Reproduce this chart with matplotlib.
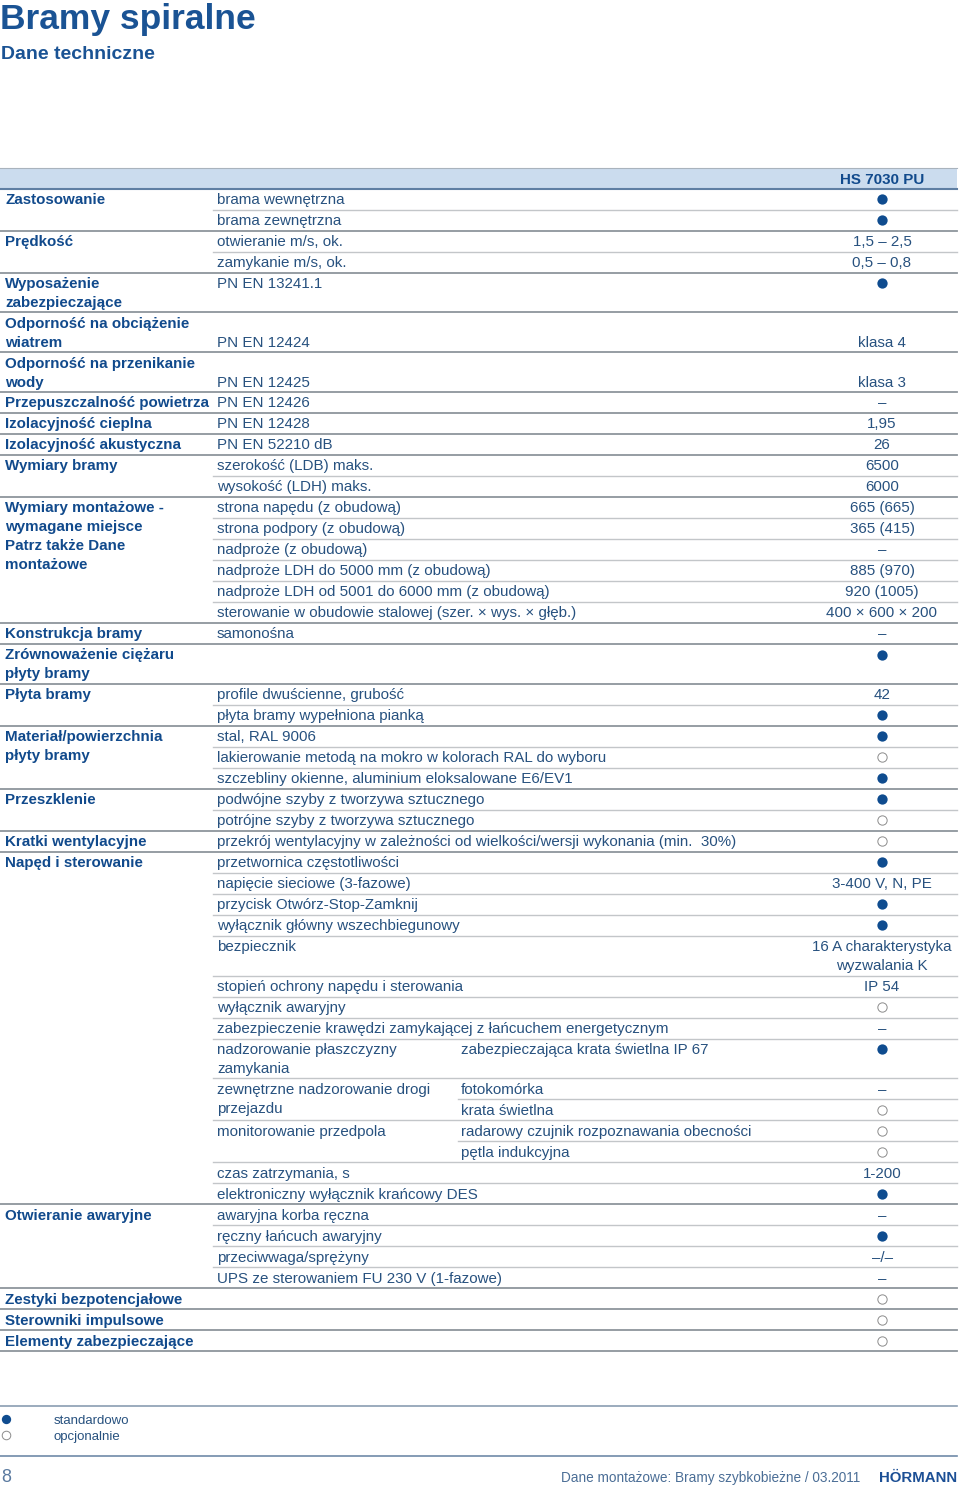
import matplotlib.pyplot as plt

# ====== Table content ======
# None in groups/items means the cell above spans into this row
groups = [
    "Zastosowanie", None,
    "Prędkość", None,
    "Wyposażenie\nzabezpieczające",
    "Odporność na obciążenie\nwiatrem",
    "Odporność na przenikanie\nwody",
    "Przepuszczalność powietrza",
    "Izolacyjność cieplna",
    "Izolacyjność akustyczna",
    "Wymiary bramy", None,
    "Wymiary montażowe -\nwymagane miejsce\nPatrz także Dane\nmontażowe",
    None, None, None, None, None,
    "Konstrukcja bramy",
    "Zrównoważenie ciężaru\npłyty bramy",
    "Płyta bramy", None,
    "Materiał/powierzchnia\npłyty bramy", None, None,
    "Przeszklenie", None,
    "Kratki wentylacyjne",
    "Napęd i sterowanie",
    None, None, None, None, None, None, None, None, None, None, None, None, None, None,
    "Otwieranie awaryjne", None, None, None,
    "Zestyki bezpotencjałowe",
    "Sterowniki impulsowe",
    "Elementy zabezpieczające",
]

items = [
    "brama wewnętrzna", "brama zewnętrzna",
    "otwieranie m/s, ok.", "zamykanie m/s, ok.",
    "PN EN 13241.1",
    "\nPN EN 12424",
    "\nPN EN 12425",
    "PN EN 12426",
    "PN EN 12428",
    "PN EN 52210 dB",
    "szerokość (LDB) maks.", "wysokość (LDH) maks.",
    "strona napędu (z obudową)",
    "strona podpory (z obudową)",
    "nadproże (z obudową)",
    "nadproże LDH do 5000 mm (z obudową)",
    "nadproże LDH od 5001 do 6000 mm (z obudową)",
    "sterowanie w obudowie stalowej (szer. × wys. × głęb.)",
    "samonośna",
    "",
    "profile dwuścienne, grubość",
    "płyta bramy wypełniona pianką",
    "stal, RAL 9006",
    "lakierowanie metodą na mokro w kolorach RAL do wyboru",
    "szczebliny okienne, aluminium eloksalowane E6/EV1",
    "podwójne szyby z tworzywa sztucznego",
    "potrójne szyby z tworzywa sztucznego",
    "przekrój wentylacyjny w zależności od wielkości/wersji wykonania (min.  30%)",
    "przetwornica częstotliwości",
    "napięcie sieciowe (3-fazowe)",
    "przycisk Otwórz-Stop-Zamknij",
    "wyłącznik główny wszechbiegunowy",
    "bezpiecznik",
    "stopień ochrony napędu i sterowania",
    "wyłącznik awaryjny",
    "zabezpieczenie krawędzi zamykającej z łańcuchem energetycznym",
    "nadzorowanie płaszczyzny\nzamykania",
    "zewnętrzne nadzorowanie drogi\nprzejazdu", None,
    "monitorowanie przedpola", None,
    "czas zatrzymania, s",
    "elektroniczny wyłącznik krańcowy DES",
    "awaryjna korba ręczna",
    "ręczny łańcuch awaryjny",
    "przeciwwaga/sprężyny",
    "UPS ze sterowaniem FU 230 V (1-fazowe)",
    "", "", "",
]

details = [""] * 36 + [
    "zabezpieczająca krata świetlna IP 67",
    "fotokomórka",
    "krata świetlna",
    "radarowy czujnik rozpoznawania obecności",
    "pętla indukcyjna",
] + [""] * 9

values = [
    "●", "●",
    "1,5 – 2,5", "0,5 – 0,8",
    "●",
    "\nklasa 4",
    "\nklasa 3",
    "–", "1,95", "26",
    "6500", "6000",
    "665 (665)", "365 (415)", "–", "885 (970)", "920 (1005)", "400 × 600 × 200",
    "–",
    "●",
    "42", "●",
    "●", "○", "●",
    "●", "○",
    "○",
    "●", "3-400 V, N, PE", "●", "●",
    "16 A charakterystyka\nwyzwalania K",
    "IP 54", "○", "–",
    "●", "–", "○", "○", "○",
    "1-200", "●",
    "–", "●", "–/–", "–",
    "○", "○", "○",
]

column_title = "HS 7030 PU"
legend_labels = ["standardowo", "opcjonalnie"]

# ====== Styles ======
plt.rcParams["font.family"] = ["Liberation Sans", "DejaVu Sans"]
TITLE_BLUE = "#1a5394"
BOLD_BLUE = "#114a8c"
TEXT_BLUE = "#27517f"
DOT_BLUE = "#0f4c8f"
SECTION_LINE = "#8e959c"
SUB_LINE = "#c3c6c9"
FS = 10.9

X_COL1, X_COL2, X_COL3, X_VAL = 5, 217, 461, 882
X_LINE2, X_LINE3, X_RIGHT = 213, 458, 957
TOP = 188.5
ROW_H, LINE_STEP = 21.0, 18.8


def n_lines(s):
    return s.count("\n") + 1 if s else 1


def put_lines(ax, x, y, s, **kw):
    for k, line in enumerate(s.split("\n")):
        if line:
            ax.text(x, y + k * 19, line, va="baseline", **kw)


fig = plt.figure(figsize=(9.6, 14.89), dpi=100)
ax = fig.add_axes([0, 0, 1, 1])
ax.set_xlim(0, 960)
ax.set_ylim(1489, 0)
ax.axis("off")

# Title
ax.text(0, 29, "Bramy spiralne", fontsize=25.5, fontweight="bold", color=TITLE_BLUE, va="baseline")
ax.text(1, 59, "Dane techniczne", fontsize=14, fontweight="bold", color=TITLE_BLUE, va="baseline")

# Header band
ax.fill_between([0, X_RIGHT], 168, TOP, color="#cbdcee", lw=0)
ax.plot([0, X_RIGHT], [168, 168], color="#a9b3bd", lw=0.8)
ax.plot([0, X_RIGHT], [TOP, TOP], color="#5f7fa3", lw=1.5)
ax.text(X_VAL, 184, column_title, fontsize=FS, fontweight="bold", color=BOLD_BLUE,
        ha="center", va="baseline")

n = len(values)
y = TOP
for i in range(n):
    # row height: ignore labels that span into following rows
    cells = [details[i], values[i]]
    if groups[i] is not None and not (i + 1 < n and groups[i + 1] is None):
        cells.append(groups[i])
    if items[i] is not None and not (i + 1 < n and items[i + 1] is None):
        cells.append(items[i])
    lines = max(n_lines(c) for c in cells)
    h = ROW_H + LINE_STEP * (lines - 1)
    base = y + 15.5

    if groups[i]:
        put_lines(ax, X_COL1, base, groups[i], fontsize=FS, fontweight="bold", color=BOLD_BLUE)
    if items[i]:
        put_lines(ax, X_COL2, base, items[i], fontsize=FS, color=TEXT_BLUE)
    if details[i]:
        put_lines(ax, X_COL3, base, details[i], fontsize=FS, color=TEXT_BLUE)

    v = values[i]
    if v == "●":
        ax.scatter([X_VAL], [y + 10.6], s=55, color=DOT_BLUE, lw=0, zorder=3)
    elif v == "○":
        ax.scatter([X_VAL], [y + 10.6], s=45, facecolor="white", edgecolor="#8c8c8c",
                   lw=0.7, zorder=3)
    else:
        put_lines(ax, X_VAL, base, v, fontsize=FS, color=TEXT_BLUE, ha="center")

    y += h
    # separator below this row depends on what starts in the next row
    if i + 1 >= n or groups[i + 1] is not None:
        ax.plot([0, X_RIGHT], [y, y], color=SECTION_LINE, lw=1.3)
    elif items[i + 1] is None:
        ax.plot([X_LINE3, X_RIGHT], [y, y], color=SUB_LINE, lw=1.0)
    else:
        ax.plot([X_LINE2, X_RIGHT], [y, y], color=SUB_LINE, lw=1.0)

# Legend
ax.plot([0, X_RIGHT], [1406, 1406], color="#8a9db2", lw=1.2)
ax.scatter([6], [1419], s=45, color=DOT_BLUE, lw=0)
ax.scatter([6], [1435], s=38, facecolor="white", edgecolor="#8c8c8c", lw=0.7)
ax.text(54, 1423.5, legend_labels[0], fontsize=9.5, color=TEXT_BLUE, va="baseline")
ax.text(54, 1440, legend_labels[1], fontsize=9.5, color=TEXT_BLUE, va="baseline")

# Footer
ax.plot([0, X_RIGHT], [1456, 1456], color="#6f8aa8", lw=1.2)
ax.text(1, 1482, "8", fontsize=13, color="#5a7aa0", va="baseline")
ax.text(860, 1482, "Dane montażowe: Bramy szybkobieżne / 03.2011", fontsize=9.8,
        color="#4b6e96", ha="right", va="baseline")
ax.text(957, 1482, "HÖRMANN", fontsize=10.8, fontweight="bold", color="#1c4f95",
        ha="right", va="baseline")

fig.savefig("out.png", dpi=100)
